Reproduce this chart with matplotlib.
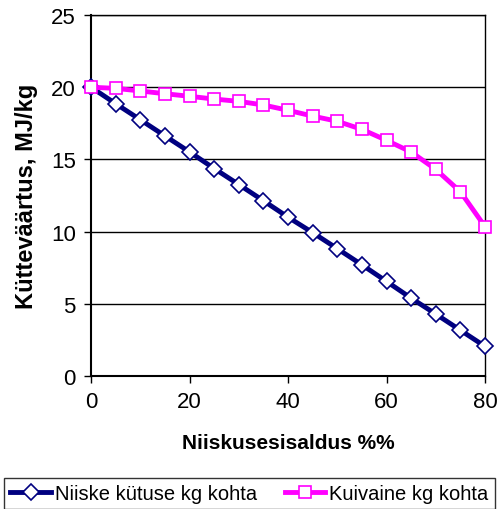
import matplotlib
matplotlib.use('Agg')
import matplotlib.pyplot as plt

plt.rcParams['font.family'] = ['Liberation Sans', 'DejaVu Sans']

# niiskusesisaldus, %
niiskus = [0, 5, 10, 15, 20, 25, 30, 35, 40, 45, 50, 55, 60, 65, 70, 75, 80]
# kütteväärtus niiske kütuse kg kohta, MJ/kg
niiske = [20.0, 18.86, 17.75, 16.63, 15.52, 14.37, 13.26, 12.14, 11.0,
          9.93, 8.82, 7.70, 6.55, 5.39, 4.29, 3.17, 2.05]
# kütteväärtus kuivaine kg kohta, MJ/kg
kuiv = [20.0, 19.92, 19.74, 19.55, 19.37, 19.18, 19.02, 18.77, 18.4,
        18.0, 17.64, 17.08, 16.32, 15.51, 14.31, 12.76, 10.34]

fig = plt.figure(figsize=(4.99, 5.10), dpi=100)
ax = fig.add_axes([0.1824, 0.2608, 0.7896, 0.7078])

l1, = ax.plot(niiskus, niiske, '-', color='#000080', lw=3.5, marker='D', ms=8,
              mfc='white', mec='#000080', mew=1.2, label='Niiske kütuse kg kohta',
              zorder=3, clip_on=False)
l2, = ax.plot(niiskus, kuiv, '-', color='#ff00ff', lw=3.5, marker='s', ms=8.5,
              mfc='white', mec='#ff00ff', mew=1.2, label='Kuivaine kg kohta',
              zorder=3, clip_on=False)

ax.set_xlim(0, 80)
ax.set_ylim(0, 25)
ax.set_xticks([0, 20, 40, 60, 80])
ax.set_yticks([0, 5, 10, 15, 20, 25])
ax.grid(axis='y', color='black', lw=1)
ax.set_axisbelow(True)
for s in ['top', 'right']:
    ax.spines[s].set_linewidth(1)
for s in ['left', 'bottom']:
    ax.spines[s].set_linewidth(1.5)
ax.tick_params(labelsize=16, length=5, width=1, pad=6)

ax.set_xlabel('Niiskusesisaldus %%', fontsize=15, fontweight='bold', labelpad=15)
ax.set_ylabel('Kütteväärtus, MJ/kg', fontsize=17, fontweight='bold', labelpad=9)

leg = fig.legend(handles=[l1, l2], loc='lower center', bbox_to_anchor=(0.5, 0.0),
                 ncol=2, fontsize=14.5, frameon=True, fancybox=False, edgecolor='black',
                 handlelength=2.0, handletextpad=0.2, columnspacing=1.4,
                 borderpad=0.3, borderaxespad=0.0)
leg.get_frame().set_linewidth(1)

fig.savefig('out.png', dpi=100)
